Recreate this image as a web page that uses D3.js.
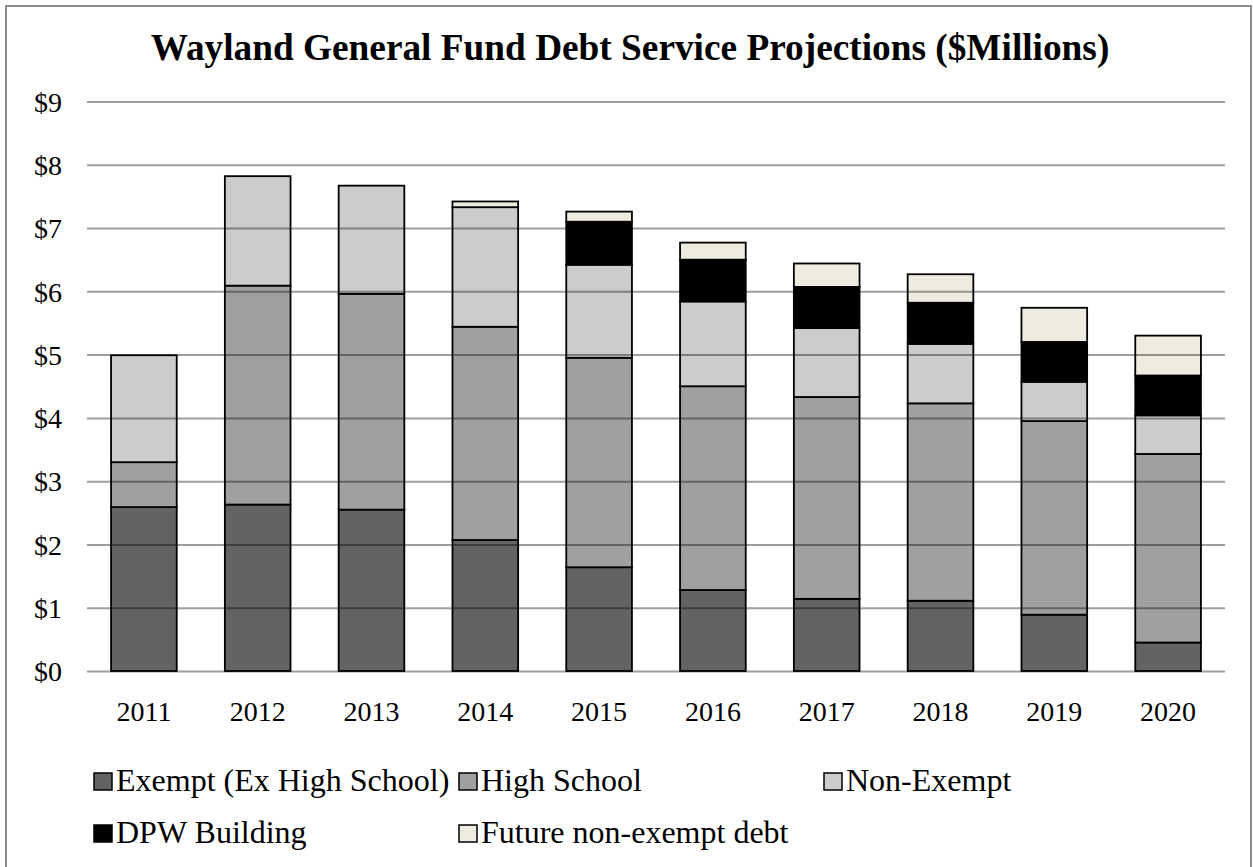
<!DOCTYPE html>
<html>
<head>
<meta charset="utf-8">
<script src="https://cdn.jsdelivr.net/npm/d3@7"></script>
<style>
  html, body { margin: 0; padding: 0; background: #fff; }
  svg { display: block; }
  text { font-family: "Liberation Serif", "Times New Roman", serif; fill: #000; }
</style>
</head>
<body>
<svg id="chart" width="1253" height="867"></svg>
<script>
// Fiscal years shown on the x axis
const years = ["2011", "2012", "2013", "2014", "2015", "2016", "2017", "2018", "2019", "2020"];

// Debt service by category, $ millions
const exempt     = [2.59, 2.63, 2.55, 2.07, 1.64, 1.28, 1.14, 1.11, 0.89, 0.45];
const highSchool = [0.71, 3.46, 3.41, 3.37, 3.31, 3.22, 3.19, 3.12, 3.06, 2.98];
const nonExempt  = [1.69, 1.73, 1.71, 1.89, 1.47, 1.34, 1.09, 0.94, 0.62, 0.61];
const dpw        = [0, 0, 0, 0, 0.68, 0.66, 0.65, 0.65, 0.63, 0.63];
const future     = [0, 0, 0, 0.09, 0.16, 0.27, 0.37, 0.45, 0.54, 0.63];

const seriesNames = ["Exempt (Ex High School)", "High School", "Non-Exempt", "DPW Building", "Future non-exempt debt"];
const seriesColors = ["#636363", "#a0a0a0", "#cccccc", "#000000", "#eeece1"];
const yTicks = [0, 1, 2, 3, 4, 5, 6, 7, 8, 9];
const titleText = "Wayland General Fund Debt Service Projections ($Millions)";

const keys = ["exempt", "highSchool", "nonExempt", "dpw", "future"];
const table = years.map((yr, i) => ({
  year: yr,
  exempt: exempt[i],
  highSchool: highSchool[i],
  nonExempt: nonExempt[i],
  dpw: dpw[i],
  future: future[i]
}));

const svg = d3.select("#chart");

// outer chart frame
svg.append("rect")
  .attr("x", 6).attr("y", 6)
  .attr("width", 1245).attr("height", 900)
  .attr("fill", "#fff")
  .attr("stroke", "#8c8c8c")
  .attr("stroke-width", 2);

const plot = { left: 87, right: 1225, top: 101.5, bottom: 671 };

const x = d3.scaleBand()
  .domain(years)
  .range([plot.left, plot.right])
  .paddingInner(0.423)
  .paddingOuter(0.2115);

const y = d3.scaleLinear()
  .domain([0, 9])
  .range([plot.bottom, plot.top]);

// title
svg.append("text")
  .attr("x", 630)
  .attr("y", 60)
  .attr("text-anchor", "middle")
  .attr("font-size", 37.3)
  .attr("font-weight", "bold")
  .text(titleText);

// stacked bars
const stacked = d3.stack().keys(keys)(table);
const layers = svg.append("g").attr("class", "bars")
  .selectAll("g")
  .data(stacked)
  .join("g")
  .attr("fill", (d, i) => seriesColors[i]);

layers.selectAll("rect")
  .data(d => d.filter(s => s[1] - s[0] > 0))
  .join("rect")
  .attr("x", d => x(d.data.year))
  .attr("width", x.bandwidth())
  .attr("y", d => y(d[1]))
  .attr("height", d => y(d[0]) - y(d[1]))
  .attr("stroke", "#000")
  .attr("stroke-width", 1.8);

// horizontal gridlines, drawn over the bars
const yAxis = d3.axisLeft(y)
  .tickValues(yTicks)
  .tickSize(-(plot.right - plot.left))
  .tickPadding(25)
  .tickFormat(d => "$" + d);

const gy = svg.append("g")
  .attr("transform", `translate(${plot.left},0)`)
  .call(yAxis);
gy.select(".domain").remove();
gy.selectAll(".tick line")
  .attr("stroke", "#000")
  .attr("stroke-opacity", 0.38)
  .attr("stroke-width", 2);
gy.selectAll(".tick text")
  .attr("font-size", 28)
  .attr("font-family", "Liberation Serif, Times New Roman, serif")
  .attr("dy", "0.35em");

// year labels
const xAxis = d3.axisBottom(x).tickSize(0).tickPadding(0);
const gx = svg.append("g")
  .attr("transform", `translate(0,${plot.bottom})`)
  .call(xAxis);
gx.select(".domain").remove();
gx.selectAll(".tick text")
  .attr("font-size", 28)
  .attr("font-family", "Liberation Serif, Times New Roman, serif")
  .attr("y", 50)
  .attr("dy", 0);

// legend: three columns, two rows
const legendCols = [93, 458, 823];
const legendRows = [791, 843];
const legend = svg.append("g").attr("class", "legend");
seriesNames.forEach((name, i) => {
  const col = i % 3, row = Math.floor(i / 3);
  const lx = legendCols[col], ly = legendRows[row];
  const g = legend.append("g");
  g.append("rect")
    .attr("x", lx + 1).attr("y", ly - 18)
    .attr("width", 18).attr("height", 17)
    .attr("fill", seriesColors[i])
    .attr("stroke", "#000")
    .attr("stroke-width", 1.5);
  g.append("text")
    .attr("x", lx + 23)
    .attr("y", ly)
    .attr("font-size", 32)
    .text(name);
});
</script>
</body>
</html>
